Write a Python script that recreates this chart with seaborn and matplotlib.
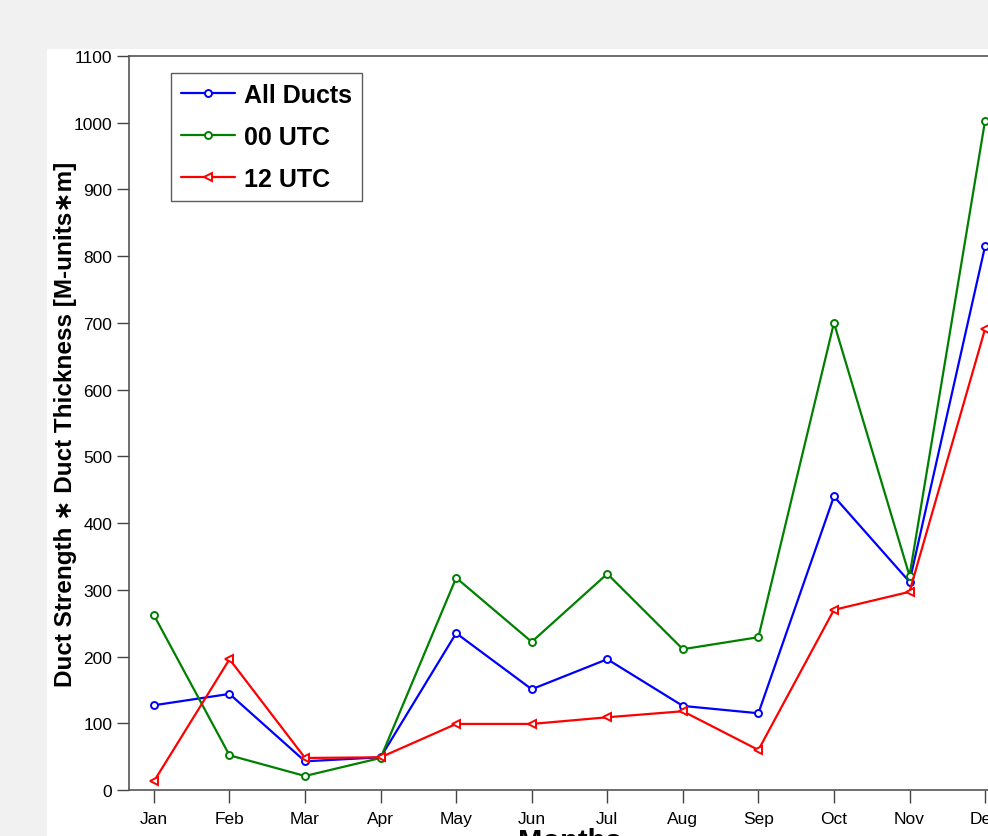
import matplotlib
matplotlib.use("Agg")
import matplotlib.pyplot as plt
import seaborn as sns
import pandas as pd
from matplotlib.patches import Rectangle

# Monthly mean duct strength x thickness
months = ["Jan", "Feb", "Mar", "Apr", "May", "Jun", "Jul", "Aug", "Sep", "Oct", "Nov", "Dec"]
all_ducts = [127, 144, 43, 49, 235, 151, 196, 126, 115, 440, 312, 815]
utc_00 = [262, 52, 21, 48, 318, 222, 324, 211, 229, 700, 321, 1003]
utc_12 = [13, 196, 48, 49, 99, 99, 109, 118, 60, 270, 297, 691]
y_ticks = list(range(0, 1101, 100))

sns.set_style("ticks")
plt.rcParams["font.family"] = ["Liberation Sans", "DejaVu Sans"]
plt.rcParams["text.color"] = "black"
plt.rcParams["axes.labelcolor"] = "black"
plt.rcParams["xtick.color"] = "#444444"
plt.rcParams["ytick.color"] = "#444444"
plt.rcParams["xtick.labelcolor"] = "black"
plt.rcParams["ytick.labelcolor"] = "black"

fig = plt.figure(figsize=(9.88, 8.37), dpi=100)
fig.patch.set_facecolor("#f1f1f1")
fig.patches.append(Rectangle((47 / 988, 0), 1, 1 - 50 / 837, transform=fig.transFigure,
                             facecolor="white", edgecolor="none", zorder=-10))

ax = fig.add_axes([129 / 988, 1 - 791 / 837, (1010 - 129) / 988, (791 - 57) / 837])
ax.set_zorder(5)
ax.set_facecolor("white")

series = [
    ("All Ducts", all_ducts, "#0000ff", "o"),
    ("00 UTC", utc_00, "#008000", "o"),
    ("12 UTC", utc_12, "#ff0000", "<"),
]
x = list(range(len(months)))
for name, vals, color, mk in series:
    df = pd.DataFrame({"x": x, "y": vals})
    sns.lineplot(data=df, x="x", y="y", ax=ax, color=color, linewidth=1.6,
                 marker=mk, markersize=5 if mk == "o" else 6, markerfacecolor="white",
                 markeredgecolor=color, markeredgewidth=1.4, label=name)

ax.set_xlim(-0.33, 11.33)
ax.set_ylim(0, 1100)
ax.set_xticks(x)
ax.set_xticklabels(months)
ax.set_yticks(y_ticks)
ax.tick_params(axis="both", labelsize=12.5, length=9, width=1)
ax.tick_params(axis="y", pad=3)
ax.tick_params(axis="x", pad=6)

for s in ax.spines.values():
    s.set_color("#555555")
    s.set_linewidth(1.2)

ax.set_xlabel("Months", fontsize=21, fontweight="bold", labelpad=0.5)
ax.set_ylabel("Duct Strength \u2217 Duct Thickness [M-units\u2217m]", fontsize=17.5,
              fontweight="bold", labelpad=-2.5)

leg = ax.legend(loc="upper left", bbox_to_anchor=(0.0477, 0.977), borderaxespad=0,
                frameon=True, fancybox=False, handlelength=2.16, labelspacing=0.72,
                handletextpad=0.36, borderpad=0.4, prop={"size": 18, "weight": "bold"})
leg.get_frame().set_edgecolor("#333333")
leg.get_frame().set_linewidth(1.0)

fig.savefig("out.png", dpi=100, facecolor=fig.get_facecolor())
